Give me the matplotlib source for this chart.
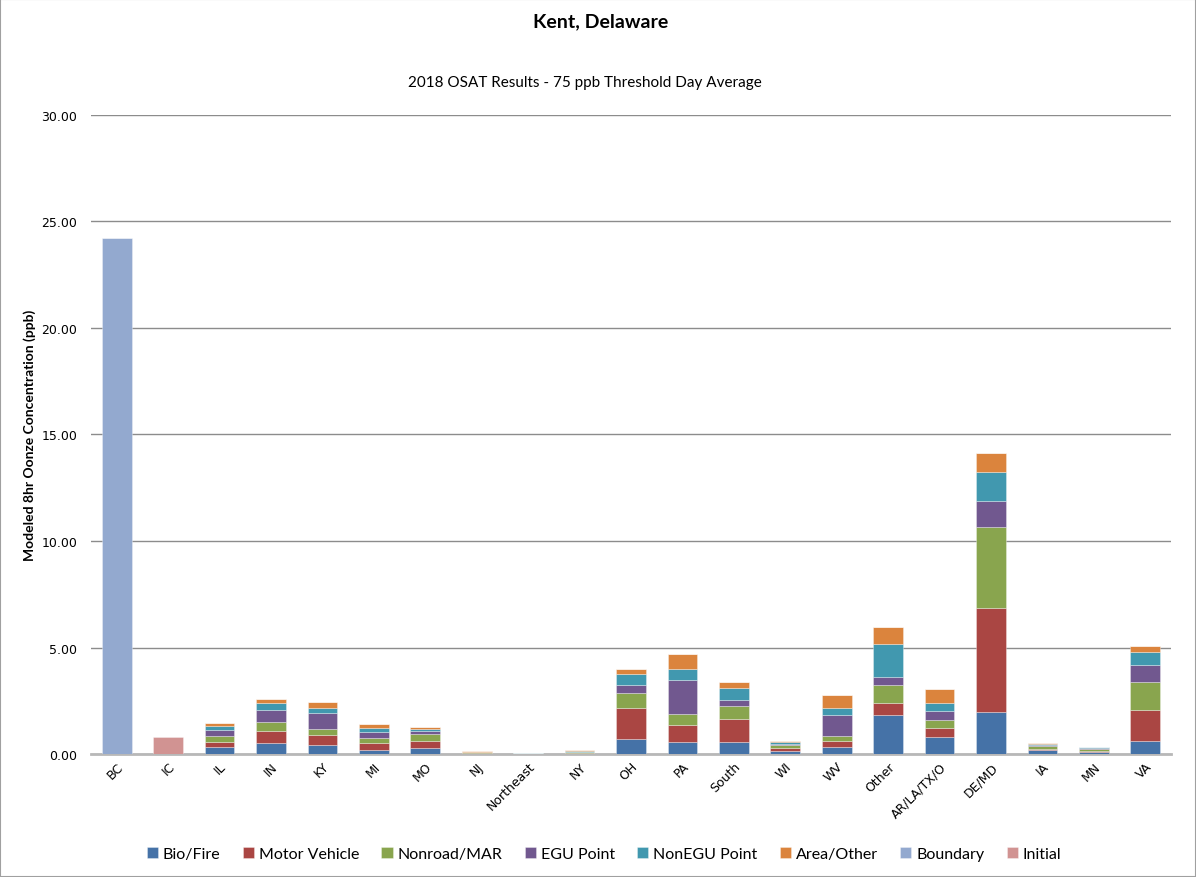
import matplotlib.pyplot as plt
import numpy as np
from matplotlib.patches import Rectangle

# Categorías (regiones) y contribuciones por fuente, en ppb
regions = ["BC", "IC", "IL", "IN", "KY", "MI", "MO", "NJ", "Northeast", "NY", "OH",
           "PA", "South", "WI", "WV", "Other", "AR/LA/TX/O", "DE/MD", "IA", "MN", "VA"]

bio_fire = [0, 0, 0.34, 0.50, 0.42, 0.20, 0.27, 0.01, 0.00, 0.02, 0.70,
            0.59, 0.55, 0.16, 0.34, 1.82, 0.80, 1.99, 0.17, 0.09, 0.63]
motor_vehicle = [0, 0, 0.23, 0.58, 0.47, 0.34, 0.36, 0.02, 0.01, 0.03, 1.47,
                 0.78, 1.10, 0.11, 0.27, 0.58, 0.42, 4.85, 0.06, 0.06, 1.46]
nonroad_mar = [0, 0, 0.30, 0.44, 0.31, 0.22, 0.30, 0.06, 0.01, 0.03, 0.69,
               0.49, 0.61, 0.16, 0.22, 0.86, 0.39, 3.80, 0.13, 0.09, 1.31]
egu_point = [0, 0, 0.27, 0.55, 0.72, 0.28, 0.16, 0.01, 0.00, 0.02, 0.39,
             1.61, 0.27, 0.05, 1.02, 0.36, 0.41, 1.25, 0.06, 0.03, 0.78]
nonegu_point = [0, 0, 0.20, 0.33, 0.25, 0.19, 0.09, 0.02, 0.01, 0.05, 0.52,
                0.53, 0.55, 0.08, 0.33, 1.55, 0.39, 1.35, 0.05, 0.05, 0.63]
area_other = [0, 0, 0.13, 0.17, 0.28, 0.16, 0.08, 0.01, 0.00, 0.02, 0.22,
              0.69, 0.31, 0.05, 0.58, 0.78, 0.66, 0.91, 0.03, 0.03, 0.28]
boundary = [24.23, 0, 0, 0, 0, 0, 0, 0, 0, 0, 0,
            0, 0, 0, 0, 0, 0, 0, 0, 0, 0]
initial = [0, 0.80, 0, 0, 0, 0, 0, 0, 0, 0, 0,
           0, 0, 0, 0, 0, 0, 0, 0, 0, 0]

series = [("Bio/Fire", bio_fire, "#4572A7"),
          ("Motor Vehicle", motor_vehicle, "#AA4643"),
          ("Nonroad/MAR", nonroad_mar, "#89A54E"),
          ("EGU Point", egu_point, "#71588F"),
          ("NonEGU Point", nonegu_point, "#4198AF"),
          ("Area/Other", area_other, "#DB843D"),
          ("Boundary", boundary, "#93A9CF"),
          ("Initial", initial, "#D19392")]

title_font = ["Lato", "DejaVu Sans"]

fig = plt.figure(figsize=(11.96, 8.78), dpi=100)
ax = fig.add_axes([0.0761, 0.140, 0.903, 0.728])

x = np.arange(len(regions))
bottom = np.zeros(len(regions))
for name, vals, col in series:
    vals = np.array(vals)
    ax.bar(x, vals, 0.58, bottom=bottom, color=col, label=name,
           edgecolor=(1, 1, 1, 0.45), linewidth=0.5, zorder=3)
    bottom += vals

ax.set_xlim(-0.5, len(regions) - 0.5)
ax.set_ylim(0, 30)
ax.set_yticks(np.arange(0, 30.1, 5))
ax.set_yticklabels(["%.2f" % v for v in np.arange(0, 30.1, 5)], fontsize=9)
ax.yaxis.grid(True, color="#8c8c8c", linewidth=1.0, zorder=0)
ax.tick_params(axis="y", length=0, pad=10)
ax.tick_params(axis="x", length=0, pad=4)
for s in ["top", "right", "left"]:
    ax.spines[s].set_visible(False)
ax.spines["bottom"].set_color("#b8b8b8")
ax.spines["bottom"].set_linewidth(2)

ax.set_xticks(x)
ax.set_xticklabels(regions, rotation=45, ha="right", rotation_mode="anchor", fontsize=9)

ax.set_ylabel("Modeled 8hr Oonze Concentration (ppb)", fontsize=10, fontweight="bold",
              family=title_font, labelpad=4)

fig.text(0.502, 0.975, "Kent, Delaware", ha="center", va="center", fontsize=14,
         fontweight="bold", family=title_font)
fig.text(0.489, 0.905, "2018 OSAT Results - 75 ppb Threshold Day Average", ha="center",
         va="center", fontsize=11, family=title_font)

leg = fig.legend(loc="center", bbox_to_anchor=(0.505, 0.026), ncol=8, frameon=False,
                 prop={"family": title_font, "size": 11.5}, handlelength=0.7,
                 handleheight=0.7, handletextpad=0.3, columnspacing=1.4)

fig.patches.append(Rectangle((0, 0), 1, 1, transform=fig.transFigure, fill=False,
                             edgecolor="#a0a0a0", linewidth=1.5))

fig.savefig("out.png", dpi=100)
